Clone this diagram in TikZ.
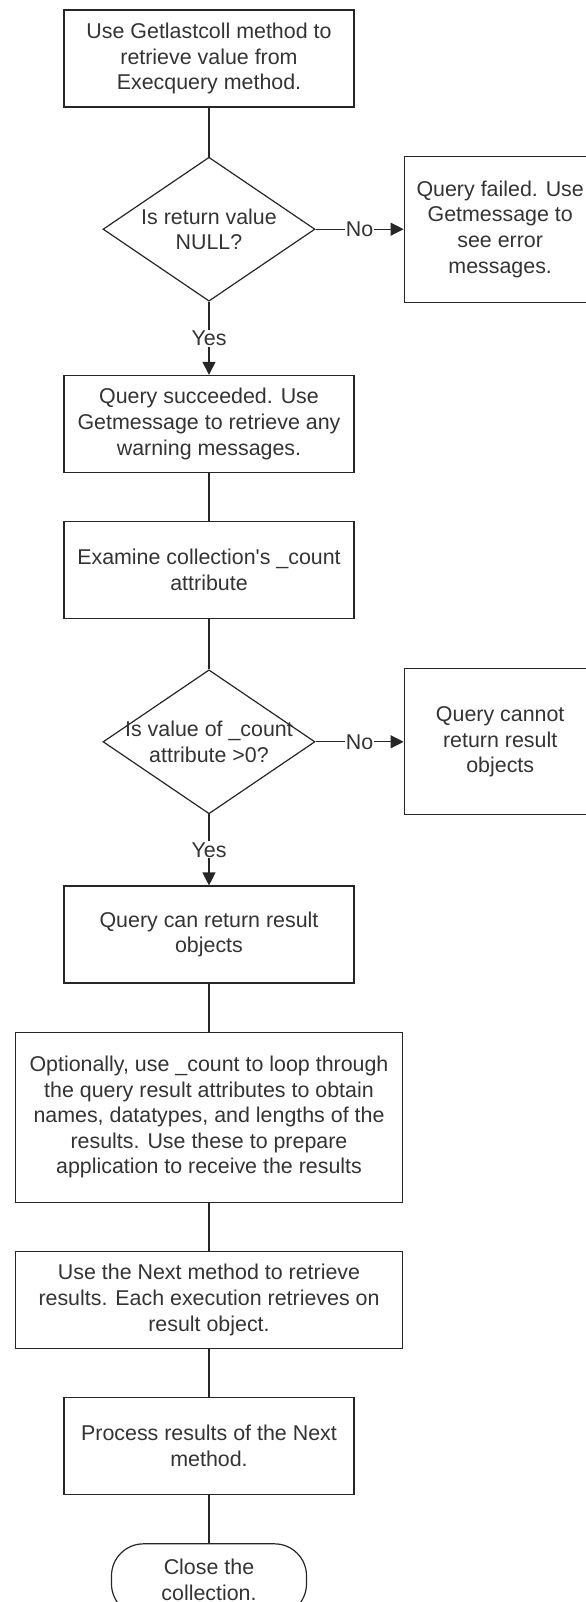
\documentclass[tikz,border=0pt]{standalone}
\usepackage{fontspec}
\setmainfont{Liberation Sans}
\usetikzlibrary{arrows.meta,positioning,shapes.geometric,shapes.misc}

\begin{document}
\begin{tikzpicture}[x=1bp,y=1bp,node distance=48bp,
 every node/.style={font=\fontsize{21.4bp}{25.6bp}\selectfont,text=black!80},
 box/.style={draw=black!85,line width=1.2bp,minimum width=290bp,minimum height=97bp,align=center,inner sep=2bp},
 widebox/.style={box,minimum width=387bp},
 sidebox/.style={box,minimum width=192bp,minimum height=146bp},
 decision/.style={diamond,draw=black!85,line width=1.2bp,minimum width=212bp,minimum height=144bp,inner sep=-18bp,align=center},
 terminal/.style={draw=black!85,line width=1.2bp,rounded corners=32bp,minimum width=195bp,minimum height=72bp,align=center},
 line/.style={draw=black!85,line width=1.2bp},
 arr/.style={line,-{Triangle[length=13bp,width=13bp]}},
 lbl/.style={fill=white,inner sep=1bp}]
\useasboundingbox (0,0) rectangle (586,-1602);
% main column
\node[box] (getlast) at (209,-58.5) {Use Getlastcoll method to\\retrieve value from\\Execquery method.};
\node[decision,below=49bp of getlast] (isnull) {Is return value\\NULL?};
\node[sidebox,right=88bp of isnull] (failed) {Query failed. Use\\Getmessage to\\see error\\messages.};
\node[box,below=73bp of isnull] (succeeded) {Query succeeded. Use\\Getmessage to retrieve any\\warning messages.};
\node[box,below=of succeeded] (examine) {Examine collection\textquotesingle s \_count\\attribute};
\node[decision,below=50bp of examine] (countpos) {Is value of \_count\\attribute >0?};
\node[sidebox,right=88bp of countpos] (noresult) {Query cannot\\return result\\objects};
\node[box,below=71bp of countpos] (canreturn) {Query can return result\\objects};
\node[widebox,minimum height=170bp,below=of canreturn] (optional) {Optionally, use \_count to loop through\\the query result attributes to obtain\\names, datatypes, and lengths of the\\results. Use these to prepare\\application to receive the results};
\node[widebox,below=of optional] (next) {Use the Next method to retrieve\\results. Each execution retrieves on\\result object.};
\node[box,below=of next] (process) {Process results of the Next\\method.};
\node[terminal,below=of process] (close) {Close the\\collection.};
% connectors
\draw[line] (getlast) -- (isnull);
\draw[arr] (isnull) -- node[lbl]{No} (failed);
\draw[arr] (isnull) -- node[lbl]{Yes} (succeeded);
\draw[line] (succeeded) -- (examine);
\draw[line] (examine) -- (countpos);
\draw[arr] (countpos) -- node[lbl]{No} (noresult);
\draw[arr] (countpos) -- node[lbl]{Yes} (canreturn);
\draw[line] (canreturn) -- (optional);
\draw[line] (optional) -- (next);
\draw[line] (next) -- (process);
\draw[line] (process) -- (close);
\end{tikzpicture}
\end{document}
